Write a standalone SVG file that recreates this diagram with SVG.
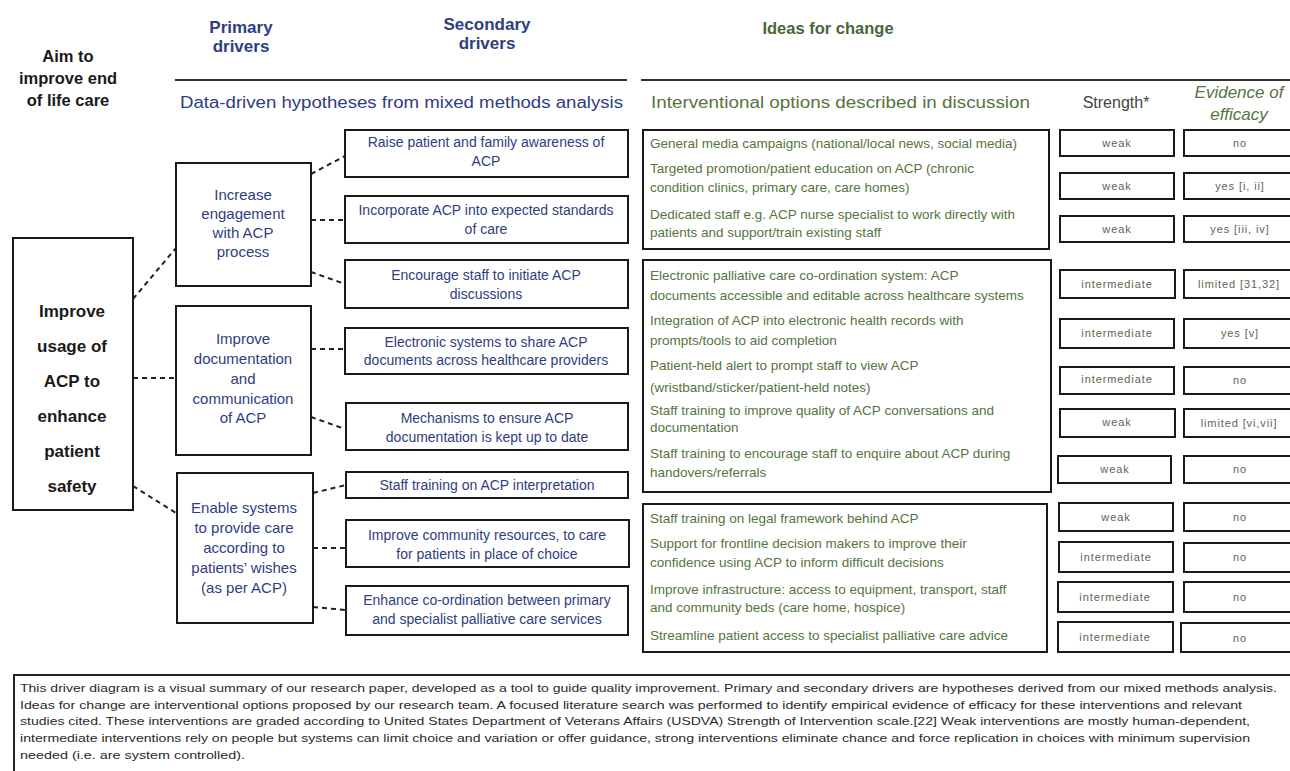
<svg xmlns="http://www.w3.org/2000/svg" width="1290" height="771" viewBox="0 0 1290 771">
<style>
  text { font-family: "Liberation Sans", Arial, sans-serif; }
  .hdr { font-weight: bold; text-anchor: middle; }
  .blueh { fill: #2f3d82; font-size: 17px; }
  .greenh { fill: #46683a; font-size: 16.5px; }
  .aim { fill: #1a1a1a; font-size: 16.5px; }
  .box { fill: #fff; stroke: #1a1a1a; stroke-width: 2; }
  .main { font-weight: bold; font-size: 17px; fill: #1a1a1a; text-anchor: middle; }
  .prim { font-size: 15px; fill: #2f3d82; text-anchor: middle; }
  .sec { font-size: 14px; fill: #2f3d82; text-anchor: middle; }
  .idea { font-size: 13.5px; fill: #557440; }
  .cell { font-size: 11px; letter-spacing: 0.9px; fill: #5a6650; text-anchor: middle; }
  .foot { font-size: 11.5px; fill: #2a2a2a; }
  .rule { stroke: #333; stroke-width: 2; }
  .dash { stroke: #222; stroke-width: 2; stroke-dasharray: 5 4; fill: none; }
</style>

<!-- Headers -->
<g id="headers">
  <text class="hdr aim" x="68" y="62">Aim to</text>
  <text class="hdr aim" x="68" y="84">improve end</text>
  <text class="hdr aim" x="68" y="106">of life care</text>
  <text class="hdr blueh" x="241" y="33">Primary</text>
  <text class="hdr blueh" x="241" y="52">drivers</text>
  <text class="hdr blueh" x="487" y="30">Secondary</text>
  <text class="hdr blueh" x="487" y="49">drivers</text>
  <text class="hdr greenh" x="828" y="34">Ideas for change</text>
  <line class="rule" x1="175" y1="80" x2="627" y2="80"/>
  <line class="rule" x1="641" y1="80" x2="1290" y2="80"/>
  <text x="180" y="108" font-size="16" fill="#2f3d82" textLength="443" lengthAdjust="spacingAndGlyphs">Data-driven hypotheses from mixed methods analysis</text>
  <text x="651" y="108" font-size="16" fill="#557440" textLength="379" lengthAdjust="spacingAndGlyphs">Interventional options described in discussion</text>
  <text x="1116" y="108" font-size="16" fill="#444" text-anchor="middle">Strength*</text>
  <text x="1239" y="98" font-size="17" fill="#557440" font-style="italic" text-anchor="middle">Evidence of</text>
  <text x="1239" y="120" font-size="17" fill="#557440" font-style="italic" text-anchor="middle">efficacy</text>
</g>

<!-- Connectors -->
<g id="connectors">
  <line class="dash" x1="133" y1="299" x2="176" y2="248"/>
  <line class="dash" x1="133" y1="378" x2="176" y2="378"/>
  <line class="dash" x1="133" y1="486" x2="176" y2="513"/>
  <line class="dash" x1="311" y1="174" x2="345" y2="156"/>
  <line class="dash" x1="311" y1="220" x2="345" y2="220"/>
  <line class="dash" x1="311" y1="272" x2="345" y2="284"/>
  <line class="dash" x1="311" y1="349" x2="345" y2="349"/>
  <line class="dash" x1="311" y1="417" x2="345" y2="429"/>
  <line class="dash" x1="313" y1="493" x2="346" y2="485"/>
  <line class="dash" x1="313" y1="548" x2="346" y2="548"/>
  <line class="dash" x1="313" y1="607" x2="346" y2="610"/>
</g>

<!-- Aim -->
<g id="aim">
  <rect class="box" x="13" y="238" width="120" height="272"/>
  <text class="main" x="72" y="317">Improve</text>
  <text class="main" x="72" y="352">usage of</text>
  <text class="main" x="72" y="387">ACP to</text>
  <text class="main" x="72" y="422">enhance</text>
  <text class="main" x="72" y="457">patient</text>
  <text class="main" x="72" y="492">safety</text>
</g>

<!-- Primary drivers -->
<g id="primary1">
  <rect class="box" x="176" y="163" width="135" height="123"/>
  <text class="prim" x="243" y="200">Increase</text>
  <text class="prim" x="243" y="219">engagement</text>
  <text class="prim" x="243" y="238">with ACP</text>
  <text class="prim" x="243" y="257">process</text>
</g>
<g id="primary2">
  <rect class="box" x="176" y="306" width="135" height="149"/>
  <text class="prim" x="243" y="344">Improve</text>
  <text class="prim" x="243" y="364">documentation</text>
  <text class="prim" x="243" y="384">and</text>
  <text class="prim" x="243" y="404">communication</text>
  <text class="prim" x="243" y="423">of ACP</text>
</g>
<g id="primary3">
  <rect class="box" x="177" y="473" width="136" height="150"/>
  <text class="prim" x="244" y="513">Enable systems</text>
  <text class="prim" x="244" y="533">to provide care</text>
  <text class="prim" x="244" y="553">according to</text>
  <text class="prim" x="244" y="573">patients’ wishes</text>
  <text class="prim" x="244" y="593">(as per ACP)</text>
</g>

<!-- Secondary drivers -->
<g id="secondary1">
  <rect class="box" x="345" y="130" width="283" height="47"/>
  <text class="sec" x="486" y="147">Raise patient and family awareness of</text>
  <text class="sec" x="486" y="166">ACP</text>
</g>
<g id="secondary2">
  <rect class="box" x="345" y="196" width="283" height="47"/>
  <text class="sec" x="486" y="215">Incorporate ACP into expected standards</text>
  <text class="sec" x="486" y="234">of care</text>
</g>
<g id="secondary3">
  <rect class="box" x="345" y="260" width="283" height="48"/>
  <text class="sec" x="486" y="280">Encourage staff to initiate ACP</text>
  <text class="sec" x="486" y="299">discussions</text>
</g>
<g id="secondary4">
  <rect class="box" x="345" y="328" width="283" height="46"/>
  <text class="sec" x="486" y="347">Electronic systems to share ACP</text>
  <text class="sec" x="486" y="365">documents across healthcare providers</text>
</g>
<g id="secondary5">
  <rect class="box" x="346" y="403" width="282" height="47"/>
  <text class="sec" x="487" y="423">Mechanisms to ensure ACP</text>
  <text class="sec" x="487" y="442">documentation is kept up to date</text>
</g>
<g id="secondary6">
  <rect class="box" x="346" y="472" width="282" height="26"/>
  <text class="sec" x="487" y="490">Staff training on ACP interpretation</text>
</g>
<g id="secondary7">
  <rect class="box" x="346" y="520" width="283" height="47"/>
  <text class="sec" x="487" y="540">Improve community resources, to care</text>
  <text class="sec" x="487" y="559">for patients in place of choice</text>
</g>
<g id="secondary8">
  <rect class="box" x="346" y="586" width="282" height="49"/>
  <text class="sec" x="487" y="605">Enhance co-ordination between primary</text>
  <text class="sec" x="487" y="624">and specialist palliative care services</text>
</g>

<!-- Ideas for change -->
<g id="ideas1">
  <rect class="box" x="643" y="130" width="406" height="119"/>
  <text class="idea" x="650" y="148">General media campaigns (national/local news, social media)</text>
  <text class="idea" x="650" y="173">Targeted promotion/patient education on ACP (chronic</text>
  <text class="idea" x="650" y="192">condition clinics, primary care, care homes)</text>
  <text class="idea" x="650" y="219">Dedicated staff e.g. ACP nurse specialist to work directly with</text>
  <text class="idea" x="650" y="237">patients and support/train existing staff</text>
</g>
<g id="ideas2">
  <rect class="box" x="643" y="260" width="408" height="232"/>
  <text class="idea" x="650" y="280">Electronic palliative care co-ordination system: ACP</text>
  <text class="idea" x="650" y="300">documents accessible and editable across healthcare systems</text>
  <text class="idea" x="650" y="325">Integration of ACP into electronic health records with</text>
  <text class="idea" x="650" y="345">prompts/tools to aid completion</text>
  <text class="idea" x="650" y="370">Patient-held alert to prompt staff to view ACP</text>
  <text class="idea" x="650" y="392">(wristband/sticker/patient-held notes)</text>
  <text class="idea" x="650" y="415">Staff training to improve quality of ACP conversations and</text>
  <text class="idea" x="650" y="432">documentation</text>
  <text class="idea" x="650" y="458">Staff training to encourage staff to enquire about ACP during</text>
  <text class="idea" x="650" y="477">handovers/referrals</text>
</g>
<g id="ideas3">
  <rect class="box" x="643" y="504" width="404" height="148"/>
  <text class="idea" x="650" y="523">Staff training on legal framework behind ACP</text>
  <text class="idea" x="650" y="548">Support for frontline decision makers to improve their</text>
  <text class="idea" x="650" y="567">confidence using ACP to inform difficult decisions</text>
  <text class="idea" x="650" y="594">Improve infrastructure: access to equipment, transport, staff</text>
  <text class="idea" x="650" y="612">and community beds (care home, hospice)</text>
  <text class="idea" x="650" y="640">Streamline patient access to specialist palliative care advice</text>
</g>

<!-- Strength / evidence cells -->
<g id="rating1"><rect class="box" x="1060" y="130" width="114" height="26"/><rect class="box" x="1184" y="130" width="112" height="26"/>
  <text class="cell" x="1117" y="147">weak</text><text class="cell" x="1240" y="147">no</text></g>
<g id="rating2"><rect class="box" x="1060" y="173" width="114" height="26"/><rect class="box" x="1184" y="173" width="112" height="26"/>
  <text class="cell" x="1117" y="190">weak</text><text class="cell" x="1240" y="190">yes [i, ii]</text></g>
<g id="rating3"><rect class="box" x="1060" y="216" width="114" height="26"/><rect class="box" x="1184" y="216" width="112" height="26"/>
  <text class="cell" x="1117" y="233">weak</text><text class="cell" x="1240" y="233">yes [iii, iv]</text></g>
<g id="rating4"><rect class="box" x="1060" y="270" width="115" height="28"/><rect class="box" x="1184" y="270" width="112" height="28"/>
  <text class="cell" x="1117" y="288">intermediate</text><text class="cell" x="1239" y="288">limited [31,32]</text></g>
<g id="rating5"><rect class="box" x="1060" y="319" width="114" height="29"/><rect class="box" x="1184" y="319" width="112" height="29"/>
  <text class="cell" x="1117" y="337">intermediate</text><text class="cell" x="1240" y="337">yes [v]</text></g>
<g id="rating6"><rect class="box" x="1060" y="367" width="114" height="27"/><rect class="box" x="1184" y="367" width="112" height="27"/>
  <text class="cell" x="1117" y="383">intermediate</text><text class="cell" x="1240" y="384">no</text></g>
<g id="rating7"><rect class="box" x="1060" y="409" width="115" height="28"/><rect class="box" x="1184" y="409" width="112" height="28"/>
  <text class="cell" x="1117" y="426">weak</text><text class="cell" x="1239" y="427">limited [vi,vii]</text></g>
<g id="rating8"><rect class="box" x="1058" y="456" width="113" height="27"/><rect class="box" x="1184" y="456" width="112" height="27"/>
  <text class="cell" x="1115" y="473">weak</text><text class="cell" x="1240" y="473">no</text></g>
<g id="rating9"><rect class="box" x="1059" y="503" width="114" height="28"/><rect class="box" x="1184" y="503" width="112" height="28"/>
  <text class="cell" x="1116" y="521">weak</text><text class="cell" x="1240" y="521">no</text></g>
<g id="rating10"><rect class="box" x="1059" y="542" width="114" height="30"/><rect class="box" x="1184" y="543" width="112" height="29"/>
  <text class="cell" x="1116" y="561">intermediate</text><text class="cell" x="1240" y="561">no</text></g>
<g id="rating11"><rect class="box" x="1058" y="582" width="115" height="30"/><rect class="box" x="1184" y="582" width="112" height="30"/>
  <text class="cell" x="1115" y="601">intermediate</text><text class="cell" x="1240" y="601">no</text></g>
<g id="rating12"><rect class="box" x="1058" y="622" width="115" height="30"/><rect class="box" x="1181" y="623" width="115" height="29"/>
  <text class="cell" x="1115" y="641">intermediate</text><text class="cell" x="1240" y="642">no</text></g>

<!-- Footer -->
<g id="footnote">
  <rect x="14" y="675" width="1290" height="100" fill="#fff" stroke="#222" stroke-width="2"/>
  <text class="foot" x="20" y="692" textLength="1257" lengthAdjust="spacingAndGlyphs">This driver diagram is a visual summary of our research paper, developed as a tool to guide quality improvement. Primary and secondary drivers are hypotheses derived from our mixed methods analysis.</text>
  <text class="foot" x="20" y="709" textLength="1222" lengthAdjust="spacingAndGlyphs">Ideas for change are interventional options proposed by our research team. A focused literature search was performed to identify empirical evidence of efficacy for these interventions and relevant</text>
  <text class="foot" x="20" y="725" textLength="1230" lengthAdjust="spacingAndGlyphs">studies cited. These interventions are graded according to United States Department of Veterans Affairs (USDVA) Strength of Intervention scale.[22] Weak interventions are mostly human-dependent,</text>
  <text class="foot" x="20" y="742" textLength="1230" lengthAdjust="spacingAndGlyphs">intermediate interventions rely on people but systems can limit choice and variation or offer guidance, strong interventions eliminate chance and force replication in choices with minimum supervision</text>
  <text class="foot" x="20" y="759" textLength="225" lengthAdjust="spacingAndGlyphs">needed (i.e. are system controlled).</text>
</g>
</svg>
